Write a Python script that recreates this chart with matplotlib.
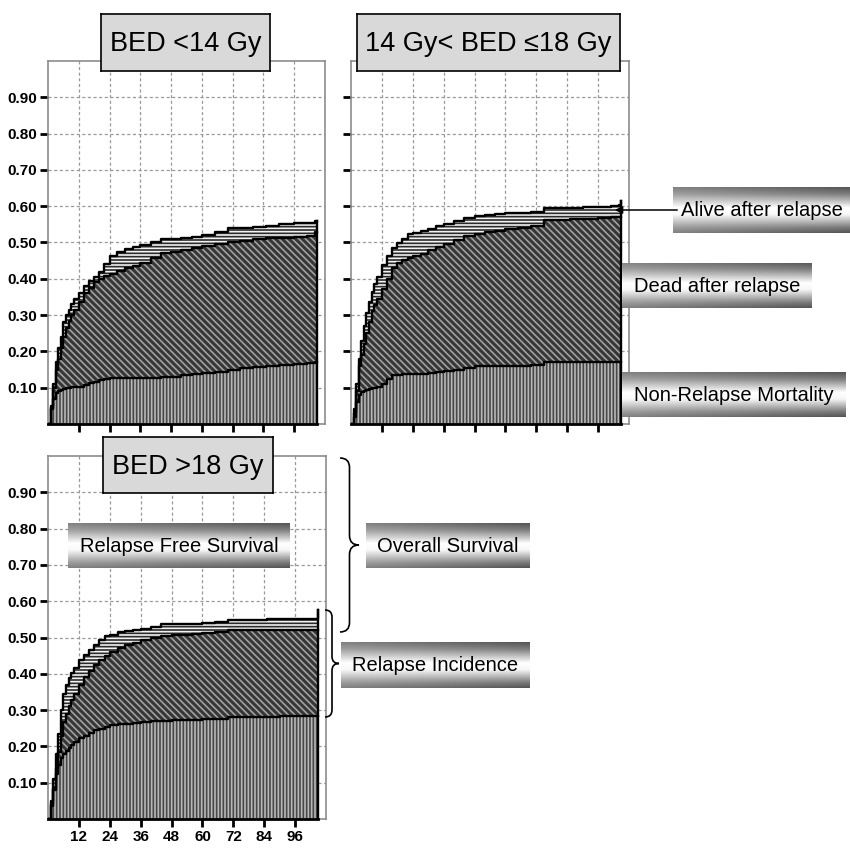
import numpy as np
import matplotlib
matplotlib.use("Agg")
import matplotlib.pyplot as plt
from matplotlib.patches import FancyArrowPatch, PathPatch
from matplotlib.path import Path

FONT = ["Liberation Sans Narrow", "Liberation Sans", "DejaVu Sans"]
plt.rcParams["font.family"] = FONT
plt.rcParams["hatch.linewidth"] = 1.2

# Follow-up time in months
months = [0, 1, 2, 3, 4, 5, 6, 7, 8, 9, 10,
          12, 14, 16, 18, 20, 22, 24,
          27, 30, 33, 36,
          40, 44, 48, 52, 56, 60,
          65, 70, 75, 80, 85, 90,
          96, 101, 104, 105]

# Stacked cumulative incidence curves: NRM, NRM + dead after relapse, NRM + all relapses
low_nrm = [0.0, 0.045, 0.07, 0.085, 0.09, 0.094, 0.097, 0.099, 0.100, 0.101, 0.102,
           0.103, 0.108, 0.112, 0.116, 0.120, 0.124, 0.127,
           0.127, 0.127, 0.127, 0.128,
           0.128, 0.129, 0.130, 0.134, 0.139, 0.140,
           0.144, 0.150, 0.153, 0.156, 0.160, 0.162,
           0.165, 0.168, 0.172, 0.172]
low_dead = [0.0, 0.04, 0.10, 0.15, 0.18, 0.21, 0.24, 0.265, 0.285, 0.30, 0.315,
            0.335, 0.36, 0.375, 0.39, 0.40, 0.408, 0.413,
            0.422, 0.43, 0.436, 0.443,
            0.456, 0.47, 0.475, 0.479, 0.484, 0.489,
            0.495, 0.501, 0.505, 0.509, 0.512, 0.513,
            0.515, 0.518, 0.530, 0.530]
low_total = [0.0, 0.05, 0.11, 0.17, 0.21, 0.24, 0.28, 0.30, 0.315, 0.33, 0.345,
             0.36, 0.38, 0.395, 0.405, 0.42, 0.44, 0.462,
             0.475, 0.482, 0.488, 0.494,
             0.502, 0.510, 0.511, 0.512, 0.515, 0.522,
             0.530, 0.540, 0.541, 0.543, 0.545, 0.552,
             0.553, 0.555, 0.560, 0.560]

mid_nrm = [0.0, 0.02, 0.06, 0.08, 0.087, 0.09, 0.093, 0.096, 0.098, 0.100, 0.101,
           0.110, 0.125, 0.134, 0.136, 0.137, 0.138, 0.139,
           0.139, 0.140, 0.142, 0.146,
           0.150, 0.155, 0.159, 0.160, 0.160, 0.161,
           0.161, 0.162, 0.172, 0.172, 0.172, 0.172,
           0.172, 0.172, 0.172, 0.172]
mid_dead = [0.0, 0.03, 0.09, 0.16, 0.19, 0.22, 0.25, 0.28, 0.31, 0.328, 0.345,
            0.372, 0.40, 0.43, 0.443, 0.452, 0.458, 0.462,
            0.467, 0.478, 0.488, 0.497,
            0.508, 0.517, 0.523, 0.528, 0.532, 0.536,
            0.540, 0.545, 0.562, 0.563, 0.564, 0.565,
            0.567, 0.569, 0.571, 0.571]
mid_total = [0.0, 0.04, 0.11, 0.18, 0.23, 0.27, 0.305, 0.335, 0.365, 0.385, 0.405,
             0.437, 0.462, 0.485, 0.498, 0.51, 0.523, 0.526,
             0.533, 0.538, 0.545, 0.552,
             0.560, 0.568, 0.573, 0.576, 0.578, 0.580,
             0.582, 0.584, 0.594, 0.595, 0.596, 0.597,
             0.599, 0.600, 0.604, 0.615]

high_nrm = [0.0, 0.035, 0.08, 0.125, 0.15, 0.168, 0.18, 0.188, 0.196, 0.204, 0.212,
            0.222, 0.230, 0.237, 0.244, 0.249, 0.254, 0.258,
            0.261, 0.263, 0.265, 0.267,
            0.269, 0.271, 0.272, 0.273, 0.274, 0.275,
            0.276, 0.281, 0.281, 0.282, 0.282, 0.283,
            0.283, 0.283, 0.283, 0.283]
high_dead = [0.0, 0.04, 0.085, 0.14, 0.185, 0.23, 0.268, 0.29, 0.31, 0.328, 0.345,
             0.37, 0.39, 0.408, 0.423, 0.437, 0.449, 0.46,
             0.472, 0.48, 0.486, 0.492,
             0.499, 0.505, 0.507, 0.508, 0.509, 0.512,
             0.516, 0.520, 0.520, 0.520, 0.520, 0.520,
             0.520, 0.520, 0.520, 0.520]
high_total = [0.0, 0.05, 0.11, 0.18, 0.235, 0.30, 0.345, 0.37, 0.388, 0.402, 0.415,
              0.437, 0.452, 0.465, 0.48, 0.492, 0.504, 0.508,
              0.514, 0.518, 0.521, 0.524,
              0.530, 0.536, 0.538, 0.538, 0.538, 0.540,
              0.543, 0.547, 0.548, 0.549, 0.550, 0.551,
              0.552, 0.552, 0.552, 0.577]

y_ticks = [0.1, 0.2, 0.3, 0.4, 0.5, 0.6, 0.7, 0.8, 0.9]
x_ticks = [12, 24, 36, 48, 60, 72, 84, 96]

titles = ["BED <14 Gy", "14 Gy< BED \u226418 Gy", "BED >18 Gy"]

W = H = 850
fig = plt.figure(figsize=(8.5, 8.5), dpi=100)


def px_rect(x0, y0, x1, y1):
    """Pixel box (top-left origin) -> figure fraction rect."""
    return [x0 / W, 1 - y1 / H, (x1 - x0) / W, (y1 - y0) / H]


def draw_panel(rect, nrm, dead, total, ylabels, xlabels):
    ax = fig.add_axes(rect)
    t = np.array(months)
    layers = [
        (np.zeros(len(t)), nrm, "#474747", "#b8b8b8", "|||||"),
        (nrm, dead, "#363636", "#a2a2a2", "\\\\\\\\\\"),
        (dead, total, "#2a2a2a", "#f2f2f2", "-----"),
    ]
    for lo, hi, face, hcol, hatch in layers:
        with plt.rc_context({"hatch.color": hcol}):
            ax.fill_between(t, lo, hi, step="post", facecolor=face,
                            edgecolor=hcol, linewidth=0, hatch=hatch, zorder=2)
    for curve in (nrm, dead, total):
        ax.step(t, curve, where="post", color="black", lw=1.7, zorder=3)
    ax.plot([t[-1], t[-1]], [0, total[-1]], color="black", lw=1.7, zorder=3)
    ax.plot([0, t[-1]], [0, 0], color="black", lw=2, zorder=3, clip_on=False)

    ax.set_xlim(0, 108)
    ax.set_ylim(0, 1.0)
    ax.set_yticks(y_ticks)
    ax.set_xticks(x_ticks)
    ax.set_yticklabels([f"{v:.2f}" for v in y_ticks])
    ax.set_xticklabels([str(v) for v in x_ticks])
    ax.tick_params(direction="out", length=6, width=2, color="black", pad=2,
                   labelleft=ylabels, labelbottom=xlabels, labelsize=11)
    for lab in ax.get_xticklabels() + ax.get_yticklabels():
        lab.set_fontweight("bold")
    ax.grid(True, linestyle=(0, (2.5, 2)), color="#9a9a9a", lw=0.9)
    ax.set_axisbelow(True)
    for sp in ax.spines.values():
        sp.set_color("#8c8c8c")
        sp.set_linewidth(1.2)
    return ax


draw_panel(px_rect(48, 61, 325, 424), low_nrm, low_dead, low_total, True, False)
draw_panel(px_rect(351, 61, 629, 424), mid_nrm, mid_dead, mid_total, False, False)
draw_panel(px_rect(48, 456, 326, 819), high_nrm, high_dead, high_total, True, True)


def title_box(x0, y0, x1, y1, text):
    box = fig.add_axes(px_rect(x0, y0, x1, y1))
    box.set_facecolor("#d9d9d9")
    box.set_xticks([])
    box.set_yticks([])
    for sp in box.spines.values():
        sp.set_color("black")
        sp.set_linewidth(1.2)
    box.text(0.5, 0.47, text, ha="center", va="center", fontsize=19.5)


title_box(101, 14, 270, 71, titles[0])
title_box(357, 14, 620, 71, titles[1])
title_box(103, 437, 273, 493, titles[2])

# metallic shading for the legend labels (row 0 = top edge)
rows = np.linspace(0, 1, 80)
cols = np.linspace(0, 1, 200)
profile = np.interp(rows, [0, 0.15, 0.45, 0.6, 0.88, 1.0],
                    [0.42, 0.56, 1.0, 0.97, 0.55, 0.42])
shade = 1 - (1 - profile[:, None]) * (0.85 + 0.3 * cols[None, :])
shade = np.clip(shade, 0, 1)


def shaded_label(x0, y0, x1, y1, text):
    lab = fig.add_axes(px_rect(x0, y0, x1, y1))
    lab.imshow(shade, cmap="gray", vmin=0, vmax=1, aspect="auto", origin="upper",
               extent=[0, 1, 0, 1], interpolation="bilinear")
    lab.set_xlim(0, 1)
    lab.set_ylim(0, 1)
    lab.axis("off")
    lab.text(0.5, 0.48, text, ha="center", va="center", fontsize=14.5)


shaded_label(673, 187, 850, 233, "Alive after relapse")
shaded_label(622, 263, 812, 308, "Dead after relapse")
shaded_label(622, 372, 846, 417, "Non-Relapse Mortality")
shaded_label(68, 523, 290, 568, "Relapse Free Survival")
shaded_label(366, 523, 530, 568, "Overall Survival")
shaded_label(341, 642, 530, 688, "Relapse Incidence")

fig.add_artist(FancyArrowPatch((680 / W, 1 - 210 / H), (612 / W, 1 - 210 / H),
                               transform=fig.transFigure, arrowstyle="-|>",
                               mutation_scale=11, lw=1.1, color="black"))


def brace(xl, yt, yb, xt):
    xm = (xl + xt) / 2
    ym = (yt + yb) / 2
    r = xt - xm
    pts = [(xl, yt), (xm, yt), (xm, yt + r), (xm, ym - r), (xm, ym), (xt, ym),
           (xm, ym), (xm, ym + r), (xm, yb - r), (xm, yb), (xl, yb)]
    codes = [Path.MOVETO, Path.CURVE3, Path.CURVE3, Path.LINETO,
             Path.CURVE3, Path.CURVE3, Path.CURVE3, Path.CURVE3,
             Path.LINETO, Path.CURVE3, Path.CURVE3]
    verts = [(x / W, 1 - y / H) for x, y in pts]
    fig.add_artist(PathPatch(Path(verts, codes), transform=fig.transFigure,
                             fill=False, lw=1.2, color="black"))


brace(340, 458, 632, 359)
brace(325, 610, 717, 339)

fig.savefig("out.png", dpi=100)
